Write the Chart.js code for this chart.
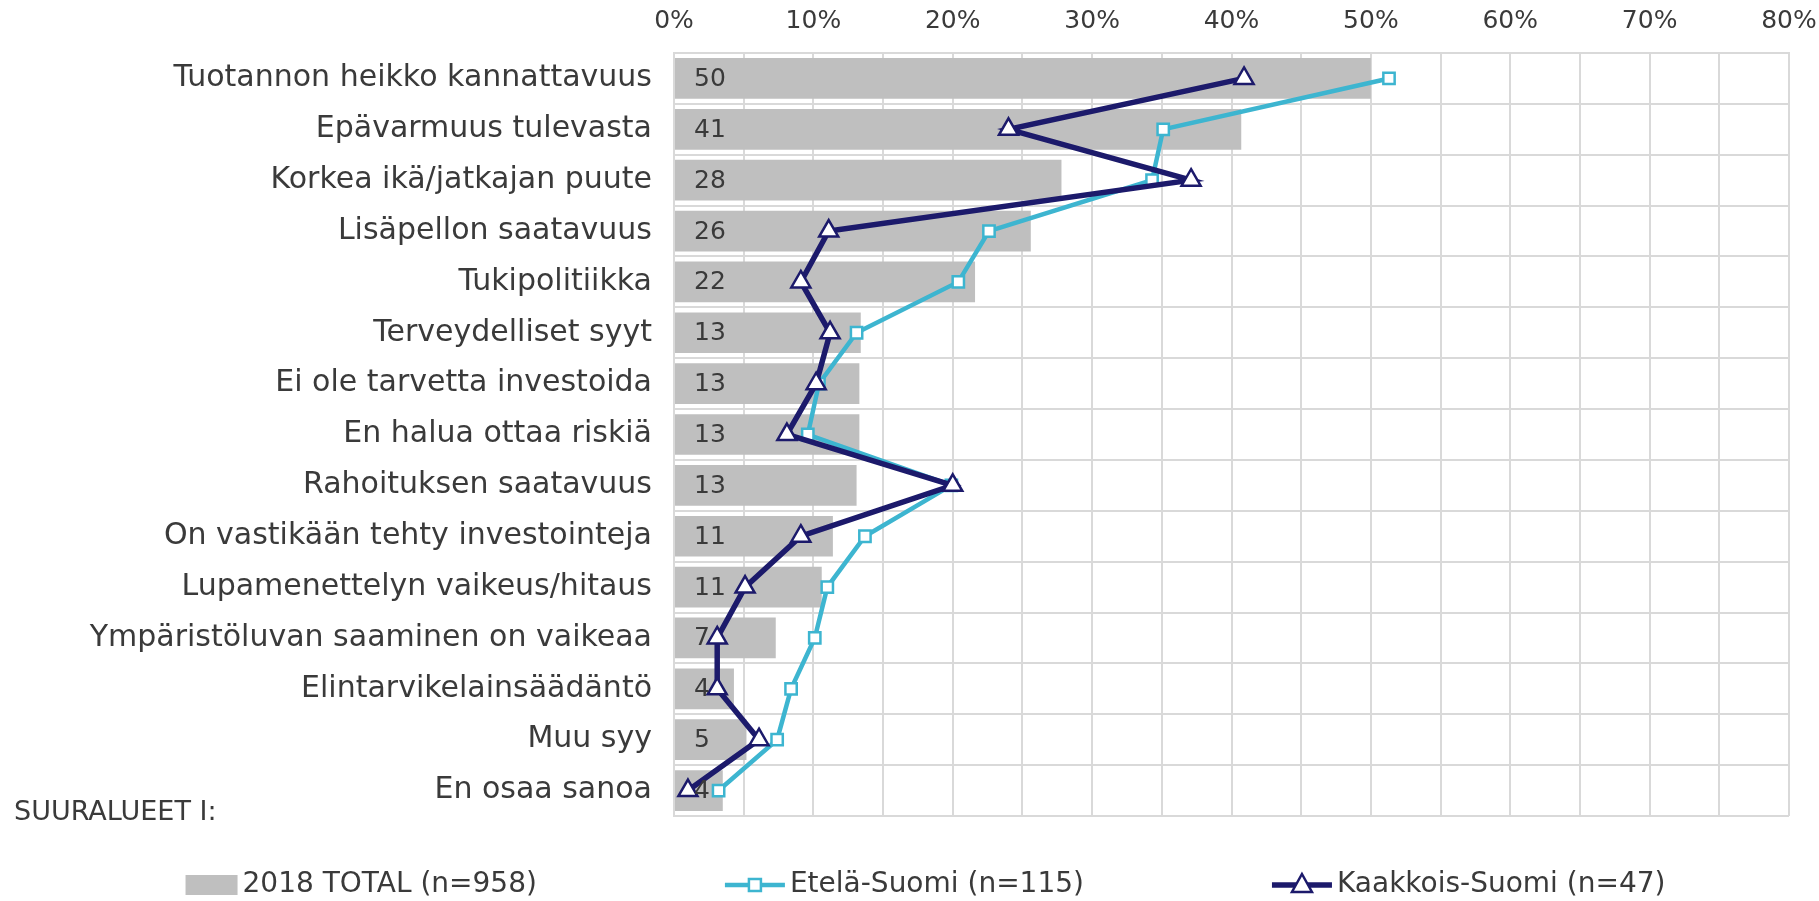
<!DOCTYPE html>
<html>
<head>
<meta charset="utf-8">
<script src="https://cdn.jsdelivr.net/npm/chart.js@4.4.0/dist/chart.umd.min.js"></script>
<style>
  body { margin: 0; background: #fff; }
  #wrap { width: 1819px; height: 901px; position: relative; }
</style>
</head>
<body>
<div id="wrap"><canvas id="reasonsChart"></canvas></div>
<script>
// Categories (top to bottom)
const categories = [
    'Tuotannon heikko kannattavuus',
    'Epävarmuus tulevasta',
    'Korkea ikä/jatkajan puute',
    'Lisäpellon saatavuus',
    'Tukipolitiikka',
    'Terveydelliset syyt',
    'Ei ole tarvetta investoida',
    'En halua ottaa riskiä',
    'Rahoituksen saatavuus',
    'On vastikään tehty investointeja',
    'Lupamenettelyn vaikeus/hitaus',
    'Ympäristöluvan saaminen on vaikeaa',
    'Elintarvikelainsäädäntö',
    'Muu syy',
    'En osaa sanoa'
];

// Series values in percent
const total2018 = [50, 40.7, 27.8, 25.6, 21.6, 13.4, 13.3, 13.3, 13.1, 11.4, 10.6, 7.3, 4.3, 5.2, 3.5];
const totalLabels = [50, 41, 28, 26, 22, 13, 13, 13, 13, 11, 11, 7, 4, 5, 4];
const etelaSuomi = [51.3, 35.1, 34.3, 22.6, 20.4, 13.1, 10.4, 9.6, 19.9, 13.7, 11.0, 10.1, 8.4, 7.4, 3.2];
const kaakkoisSuomi = [40.9, 24.0, 37.1, 11.1, 9.1, 11.2, 10.2, 8.1, 20.0, 9.1, 5.1, 3.1, 3.1, 6.1, 1.0];

const seriesNames = ['2018 TOTAL (n=958)', 'Etelä-Suomi (n=115)', 'Kaakkois-Suomi (n=47)'];
const footNote = 'SUURALUEET I:';

const GRAY = '#bfbfbf';
const LIGHT = '#3db5d0';
const NAVY = '#1c1a6b';
const TEXT = '#3a3a3a';
const GRID = '#d9d9d9';

Chart.defaults.font.family = "'DejaVu Sans', Verdana, sans-serif";
Chart.defaults.color = TEXT;

// numbers inside the bars, at the base
const barLabels = {
    id: 'barLabels',
    afterDatasetsDraw(chart) {
        const meta = chart.getDatasetMeta(2);
        const ctx = chart.ctx;
        ctx.save();
        ctx.font = "25px 'DejaVu Sans'";
        ctx.fillStyle = TEXT;
        ctx.textAlign = 'left';
        ctx.textBaseline = 'middle';
        meta.data.forEach((bar, i) => {
            ctx.fillText(String(totalLabels[i]), chart.scales.x.left + 20, bar.y + 1);
        });
        ctx.restore();
    }
};

// legend along the bottom + the footnote
const bottomLegend = {
    id: 'bottomLegend',
    afterDraw(chart) {
        const ctx = chart.ctx;
        ctx.save();
        ctx.font = "27px 'DejaVu Sans'";
        ctx.textBaseline = 'middle';
        ctx.fillStyle = TEXT;
        ctx.textAlign = 'left';
        ctx.fillText(footNote, 14, 813);

        ctx.font = "28px 'DejaVu Sans'";
        const syms = [52, 60, 60], gapText = 5, gapItem = 188;
        const widths = seriesNames.map((n, i) => syms[i] + gapText + ctx.measureText(n).width);
        const full = widths.reduce((a, b) => a + b, 0) + gapItem * (widths.length - 1);
        let x = (chart.width - full) / 2 + 16;
        const y = 885;
        seriesNames.forEach((name, i) => {
            const sym = syms[i];
            if (i === 0) {
                ctx.fillStyle = GRAY;
                ctx.fillRect(x, y - 10, sym, 20);
            } else {
                const col = i === 1 ? LIGHT : NAVY;
                ctx.strokeStyle = col;
                ctx.lineWidth = i === 1 ? 4.5 : 5.5;
                ctx.beginPath();
                ctx.moveTo(x, y);
                ctx.lineTo(x + sym, y);
                ctx.stroke();
                ctx.fillStyle = '#fff';
                ctx.lineWidth = 2.5;
                ctx.beginPath();
                const cx = x + sym / 2;
                if (i === 1) {
                    ctx.rect(cx - 6, y - 6, 12, 12);
                } else {
                    ctx.moveTo(cx, y - 11);
                    ctx.lineTo(cx + 10, y + 7);
                    ctx.lineTo(cx - 10, y + 7);
                    ctx.closePath();
                }
                ctx.fill();
                ctx.stroke();
            }
            ctx.fillStyle = TEXT;
            ctx.fillText(name, x + sym + gapText, y);
            x += widths[i] + gapItem;
        });
        ctx.restore();
    }
};

const ctx = document.getElementById('reasonsChart').getContext('2d');

const reasonsChart = new Chart(ctx, {
    type: 'bar',
    data: {
        labels: categories,
        datasets: [
            {
                type: 'line',
                label: seriesNames[2],
                data: kaakkoisSuomi,
                borderColor: NAVY,
                borderWidth: 5.5,
                pointStyle: 'triangle',
                pointRadius: 11,
                pointBorderWidth: 2.5,
                pointBackgroundColor: '#fff',
                pointBorderColor: NAVY,
                tension: 0,
                order: 0
            },
            {
                type: 'line',
                label: seriesNames[1],
                data: etelaSuomi,
                borderColor: LIGHT,
                borderWidth: 4.5,
                pointStyle: 'rect',
                pointRadius: 8,
                pointBorderWidth: 2.5,
                pointBackgroundColor: '#fff',
                pointBorderColor: LIGHT,
                tension: 0,
                order: 1
            },
            {
                type: 'bar',
                label: seriesNames[0],
                data: total2018,
                backgroundColor: GRAY,
                borderWidth: 0,
                barPercentage: 0.8,
                categoryPercentage: 1,
                order: 2
            }
        ]
    },
    options: {
        indexAxis: 'y',
        responsive: true,
        maintainAspectRatio: false,
        animation: false,
        layout: {
            padding: { top: 0, left: 0, right: 30, bottom: 85 }
        },
        scales: {
            x: {
                position: 'top',
                min: 0,
                max: 80,
                afterFit(scale) {
                    scale.height = 53;
                    scale.paddingLeft = 0;
                    scale.paddingRight = 0;
                },
                ticks: {
                    stepSize: 5,
                    padding: 17,
                    font: { size: 25 },
                    color: TEXT,
                    callback: v => (v % 10 === 0 ? v + '%' : '')
                },
                grid: { color: GRID, lineWidth: 2, drawTicks: false },
                border: { color: GRID, width: 2 }
            },
            y: {
                afterFit(scale) { scale.width = 674; },
                ticks: {
                    padding: 22,
                    font: { size: 30 },
                    color: TEXT
                },
                grid: { color: GRID, lineWidth: 2, drawTicks: false, offset: true },
                border: { color: GRID, width: 2 }
            }
        },
        plugins: {
            legend: { display: false },
            tooltip: { enabled: false }
        }
    },
    plugins: [barLabels, bottomLegend]
});
</script>
</body>
</html>
